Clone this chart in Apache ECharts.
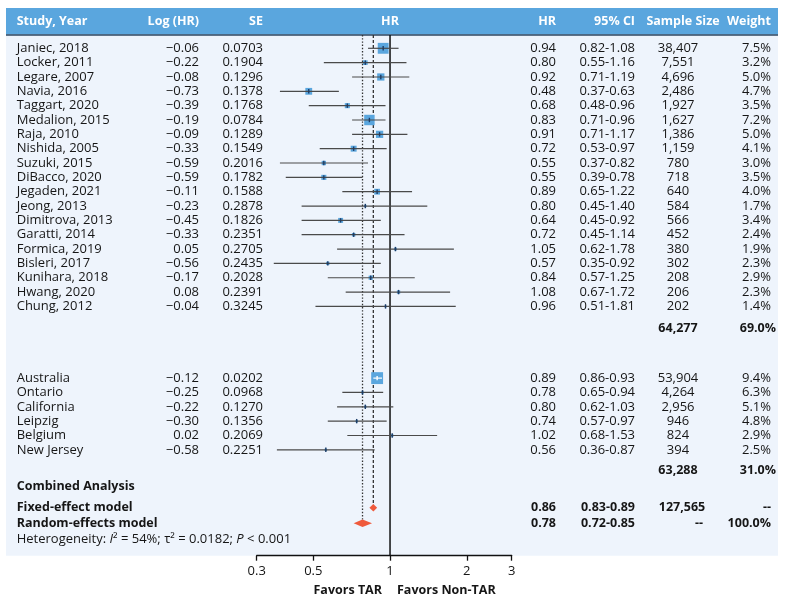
<!DOCTYPE html>
<html>
<head>
<meta charset="utf-8">
<script src="https://cdn.jsdelivr.net/npm/echarts@6/dist/echarts.min.js"></script>
<style>
  html, body { margin: 0; padding: 0; background: #fff; }
  #chart { width: 787px; height: 604px; }
</style>
</head>
<body>
<div id="chart"></div>
<script>
// individual studies
var studies = ['Janiec, 2018', 'Locker, 2011', 'Legare, 2007', 'Navia, 2016', 'Taggart, 2020', 'Medalion, 2015',
  'Raja, 2010', 'Nishida, 2005', 'Suzuki, 2015', 'DiBacco, 2020', 'Jegaden, 2021', 'Jeong, 2013', 'Dimitrova, 2013',
  'Garatti, 2014', 'Formica, 2019', 'Bisleri, 2017', 'Kunihara, 2018', 'Hwang, 2020', 'Chung, 2012']
var studyLogHR = [-0.06, -0.22, -0.08, -0.73, -0.39, -0.19, -0.09, -0.33, -0.59, -0.59, -0.11, -0.23, -0.45, -0.33, 0.05, -0.56, -0.17, 0.08, -0.04]
var studySE = [0.0703, 0.1904, 0.1296, 0.1378, 0.1768, 0.0784, 0.1289, 0.1549, 0.2016, 0.1782, 0.1588, 0.2878, 0.1826, 0.2351, 0.2705, 0.2435, 0.2028, 0.2391, 0.3245]
var studyHR = [0.94, 0.80, 0.92, 0.48, 0.68, 0.83, 0.91, 0.72, 0.55, 0.55, 0.89, 0.80, 0.64, 0.72, 1.05, 0.57, 0.84, 1.08, 0.96]
var studyLo = [0.82, 0.55, 0.71, 0.37, 0.48, 0.71, 0.71, 0.53, 0.37, 0.39, 0.65, 0.45, 0.45, 0.45, 0.62, 0.35, 0.57, 0.67, 0.51]
var studyHi = [1.08, 1.16, 1.19, 0.63, 0.96, 0.96, 1.17, 0.97, 0.82, 0.78, 1.22, 1.40, 0.92, 1.14, 1.78, 0.92, 1.25, 1.72, 1.81]
var studyN = [38407, 7551, 4696, 2486, 1927, 1627, 1386, 1159, 780, 718, 640, 584, 566, 452, 380, 302, 208, 206, 202]
var studyWeight = [7.5, 3.2, 5.0, 4.7, 3.5, 7.2, 5.0, 4.1, 3.0, 3.5, 4.0, 1.7, 3.4, 2.4, 1.9, 2.3, 2.9, 2.3, 1.4]
var studyTotalN = 64277
var studyTotalWeight = 69.0

// registries
var registries = ['Australia', 'Ontario', 'California', 'Leipzig', 'Belgium', 'New Jersey']
var regLogHR = [-0.12, -0.25, -0.22, -0.30, 0.02, -0.58]
var regSE = [0.0202, 0.0968, 0.1270, 0.1356, 0.2069, 0.2251]
var regHR = [0.89, 0.78, 0.80, 0.74, 1.02, 0.56]
var regLo = [0.86, 0.65, 0.62, 0.57, 0.68, 0.36]
var regHi = [0.93, 0.94, 1.03, 0.97, 1.53, 0.87]
var regN = [53904, 4264, 2956, 946, 824, 394]
var regWeight = [9.4, 6.3, 5.1, 4.8, 2.9, 2.5]
var regTotalN = 63288
var regTotalWeight = 31.0

// combined analysis
var models = ['Fixed-effect model', 'Random-effects model']
var modelHR = [0.86, 0.78]
var modelLo = [0.83, 0.72]
var modelHi = [0.89, 0.85]
var modelN = ['127,565', '--']
var modelWeight = ['--', '100.0%']

var headers = ['Study, Year', 'Log (HR)', 'SE', 'HR', 'HR', '95% CI', 'Sample Size', 'Weight']
var tickValues = [0.3, 0.5, 1, 2, 3]
var tickLabels = ['0.3', '0.5', '1', '2', '3']

// layout
var ROW0 = 48.3
var ROWH = 14.34
var FONT = '"Open Sans", "Noto Sans", sans-serif'
var TXT = '#161616'
var BLUE = '#5aa6de'
var RED = '#ef5a3c'
var REG = '13px ' + FONT
var BOLD = 'bold 12.5px ' + FONT
var colX = { name: 16.7, log: 199, se: 263, hr: 556, ci: 635, n: 678, w: 771 }

function fmt2 (v) { return v.toFixed(2) }
function fmtN (v) { return v.toLocaleString('en-US') }
function log (v) { return Math.log10(v) }

var rowsStudy = studies.map(function (s, i) { return i })
var rowsReg = registries.map(function (s, i) { return 23 + i })
var rowSub1 = 19.55
var rowSub2 = 29.46
var rowComb = 30.52
var rowModel = [32.04, 33.12]
var rowHet = 34.22

// table cells
var cells = []
function cell (x, row, text, align, bold) {
  cells.push({ x: x, row: row, text: text, align: align, bold: !!bold })
}
function addRow (row, name, lg, se, hr, lo, hi, n, w) {
  cell(colX.name, row, name, 'left')
  cell(colX.log, row, lg.toFixed(2).replace('-', '\u2212'), 'right')
  cell(colX.se, row, se.toFixed(4), 'right')
  cell(colX.hr, row, fmt2(hr), 'right')
  cell(colX.ci, row, fmt2(lo) + '-' + fmt2(hi), 'right')
  cell(colX.n, row, fmtN(n), 'center')
  cell(colX.w, row, w.toFixed(1) + '%', 'right')
}
studies.forEach(function (s, i) {
  addRow(rowsStudy[i], s, studyLogHR[i], studySE[i], studyHR[i], studyLo[i], studyHi[i], studyN[i], studyWeight[i])
})
registries.forEach(function (s, i) {
  addRow(rowsReg[i], s, regLogHR[i], regSE[i], regHR[i], regLo[i], regHi[i], regN[i], regWeight[i])
})
cell(colX.n, rowSub1, fmtN(studyTotalN), 'center', true)
cell(776, rowSub1, studyTotalWeight.toFixed(1) + '%', 'right', true)
cell(colX.n, rowSub2, fmtN(regTotalN), 'center', true)
cell(776, rowSub2, regTotalWeight.toFixed(1) + '%', 'right', true)
cell(colX.name, rowComb, 'Combined Analysis', 'left', true)
models.forEach(function (m, i) {
  cell(colX.name, rowModel[i], m, 'left', true)
  cell(colX.hr, rowModel[i], fmt2(modelHR[i]), 'right', true)
  cell(colX.ci, rowModel[i], fmt2(modelLo[i]) + '-' + fmt2(modelHi[i]), 'right', true)
  if (modelN[i] === '--') cell(703, rowModel[i], modelN[i], 'right', true)
  else cell(682, rowModel[i], modelN[i], 'center', true)
  cell(colX.w, rowModel[i], modelWeight[i], 'right', true)
})

// forest marks
var squares = []
var ciLines = []
studies.forEach(function (s, i) {
  squares.push({ value: [log(studyHR[i]), rowsStudy[i]], symbolSize: 1.45 * studyWeight[i] })
  ciLines.push([log(studyLo[i]), log(studyHi[i]), log(studyHR[i]), rowsStudy[i], 1.45 * studyWeight[i]])
})
registries.forEach(function (s, i) {
  var size = Math.max(2.5, 0.24 / regSE[i])
  squares.push({ value: [log(regHR[i]), rowsReg[i]], symbolSize: size })
  ciLines.push([log(regLo[i]), log(regHi[i]), log(regHR[i]), rowsReg[i], size])
})
var diamonds = models.map(function (m, i) {
  return [log(modelLo[i]), log(modelHi[i]), log(modelHR[i]), rowModel[i]]
})
var rowTop = (35 - ROW0) / ROWH
var rowAxis = (555.7 - ROW0) / ROWH
var refLines = [
  [log(1), rowTop, rowAxis, 0],
  [log(modelHR[1]), rowTop, rowModel[1] - 0.25, 1],
  [log(modelHR[0]), rowTop, rowModel[0] - 0.25, 2]
]

var chart = echarts.init(document.getElementById('chart'), null, { renderer: 'canvas' })

function headText (x, text, align) {
  return { type: 'text', x: x, y: 21.7, style: { text: text, align: align, verticalAlign: 'middle', fill: '#fff', font: BOLD } }
}

var option = {
  animation: false,
  textStyle: { fontFamily: FONT },
  grid: [
    { left: 0, top: 0, width: 787, height: 604 },
    { left: 256.7, top: 35, width: 255, height: 520.7 }
  ],
  xAxis: [
    { gridIndex: 0, type: 'value', min: 0, max: 787, show: false },
    {
      gridIndex: 1,
      type: 'value',
      position: 'bottom',
      min: log(0.3),
      max: log(3),
      axisLine: { show: true, onZero: false, lineStyle: { color: '#111', width: 1.3 } },
      axisTick: { show: true, length: 5, lineStyle: { color: '#111', width: 1.3 }, customValues: tickValues.map(log) },
      axisLabel: {
        customValues: tickValues.map(log),
        color: TXT,
        fontSize: 13,
        margin: 9,
        fontFamily: FONT,
        formatter: function (v) {
          for (var i = 0; i < tickValues.length; i++) {
            if (Math.abs(log(tickValues[i]) - v) < 1e-6) return tickLabels[i]
          }
          return ''
        }
      },
      splitLine: { show: false }
    }
  ],
  yAxis: [
    { gridIndex: 0, type: 'value', inverse: true, min: -ROW0 / ROWH, max: (604 - ROW0) / ROWH, show: false },
    { gridIndex: 1, type: 'value', inverse: true, min: rowTop, max: rowAxis, show: false }
  ],
  graphic: [
    { type: 'rect', shape: { x: 6, y: 8, width: 772, height: 547.7 }, style: { fill: '#eef4fc' }, z: -10 },
    { type: 'rect', shape: { x: 6, y: 8, width: 772, height: 26.5 }, style: { fill: BLUE }, z: -9 },
    { type: 'line', shape: { x1: 6, y1: 35, x2: 778, y2: 35 }, style: { stroke: '#2d4660', lineWidth: 1.5 }, z: -8 },
    headText(colX.name, headers[0], 'left'),
    headText(colX.log, headers[1], 'right'),
    headText(colX.se, headers[2], 'right'),
    headText(390, headers[3], 'center'),
    headText(colX.hr, headers[4], 'right'),
    headText(colX.ci, headers[5], 'right'),
    headText(683, headers[6], 'center'),
    headText(colX.w, headers[7], 'right'),
    { type: 'text', x: 382, y: 590.7, style: { text: 'Favors TAR', align: 'right', verticalAlign: 'middle', fill: TXT, font: BOLD } },
    { type: 'text', x: 397, y: 590.7, style: { text: 'Favors Non-TAR', align: 'left', verticalAlign: 'middle', fill: TXT, font: BOLD } }
  ],
  series: [
    {
      // table text
      type: 'custom',
      xAxisIndex: 0,
      yAxisIndex: 0,
      silent: true,
      clip: false,
      data: cells.map(function (c) { return [c.x, c.row] }),
      renderItem: function (params, api) {
        var c = cells[params.dataIndex]
        var p = api.coord([c.x, c.row])
        return {
          type: 'text',
          x: p[0],
          y: p[1],
          style: {
            text: c.text,
            align: c.align,
            verticalAlign: 'middle',
            fill: TXT,
            font: c.bold ? BOLD : REG
          }
        }
      }
    },
    {
      // heterogeneity line
      type: 'custom',
      xAxisIndex: 0,
      yAxisIndex: 0,
      silent: true,
      clip: false,
      data: [[colX.name, rowHet]],
      renderItem: function (params, api) {
        var p = api.coord([api.value(0), api.value(1)])
        return {
          type: 'text',
          x: p[0],
          y: p[1],
          style: {
            text: 'Heterogeneity: {i|I}\u00b2 = 54%; \u03c4\u00b2 = 0.0182; {i|P} < 0.001',
            align: 'left',
            verticalAlign: 'middle',
            fill: TXT,
            font: REG,
            rich: { i: { fontStyle: 'italic', fontSize: 13, fontFamily: FONT, fill: TXT } }
          }
        }
      }
    },
    {
      // reference lines
      type: 'custom',
      xAxisIndex: 1,
      yAxisIndex: 1,
      silent: true,
      clip: false,
      z: 3,
      data: refLines,
      renderItem: function (params, api) {
        var a = api.coord([api.value(0), api.value(1)])
        var b = api.coord([api.value(0), api.value(2)])
        var kind = api.value(3)
        var dash = kind === 0 ? null : (kind === 1 ? [1.4, 1.8] : [3, 2])
        return {
          type: 'line',
          shape: { x1: a[0], y1: a[1], x2: b[0], y2: b[1] },
          style: { stroke: kind === 0 ? '#111' : '#333', lineWidth: kind === 0 ? 1.5 : 1.3, lineDash: dash }
        }
      }
    },
    {
      type: 'scatter',
      xAxisIndex: 1,
      yAxisIndex: 1,
      silent: true,
      symbol: 'rect',
      z: 4,
      itemStyle: { color: BLUE, opacity: 1 },
      data: squares
    },
    {
      // confidence intervals
      type: 'custom',
      xAxisIndex: 1,
      yAxisIndex: 1,
      silent: true,
      clip: false,
      z: 5,
      data: ciLines,
      renderItem: function (params, api) {
        var lo = api.coord([api.value(0), api.value(3)])
        var hi = api.coord([api.value(1), api.value(3)])
        var mid = api.coord([api.value(2), api.value(3)])
        var half = api.value(4) / 2
        // interval hidden inside its own box: draw it in white
        var inside = (mid[0] - lo[0]) < half && (hi[0] - mid[0]) < half
        var lineCol = inside ? '#fff' : '#4a4a4a'
        var tickCol = inside ? '#fff' : '#1d3c66'
        return {
          type: 'group',
          children: [
            { type: 'line', shape: { x1: lo[0], y1: lo[1], x2: hi[0], y2: hi[1] }, style: { stroke: lineCol, lineWidth: 1.2 } },
            { type: 'line', shape: { x1: mid[0], y1: mid[1] - 2.2, x2: mid[0], y2: mid[1] + 2.2 }, style: { stroke: tickCol, lineWidth: 1.4 } }
          ]
        }
      }
    },
    {
      // pooled diamonds
      type: 'custom',
      xAxisIndex: 1,
      yAxisIndex: 1,
      silent: true,
      clip: false,
      z: 6,
      data: diamonds,
      renderItem: function (params, api) {
        var lo = api.coord([api.value(0), api.value(3)])
        var hi = api.coord([api.value(1), api.value(3)])
        var mid = api.coord([api.value(2), api.value(3)])
        var h = 3.8
        return {
          type: 'polygon',
          shape: { points: [[lo[0], lo[1]], [mid[0], mid[1] - h], [hi[0], hi[1]], [mid[0], mid[1] + h]] },
          style: { fill: RED }
        }
      }
    }
  ]
}

chart.setOption(option)
</script>
</body>
</html>
